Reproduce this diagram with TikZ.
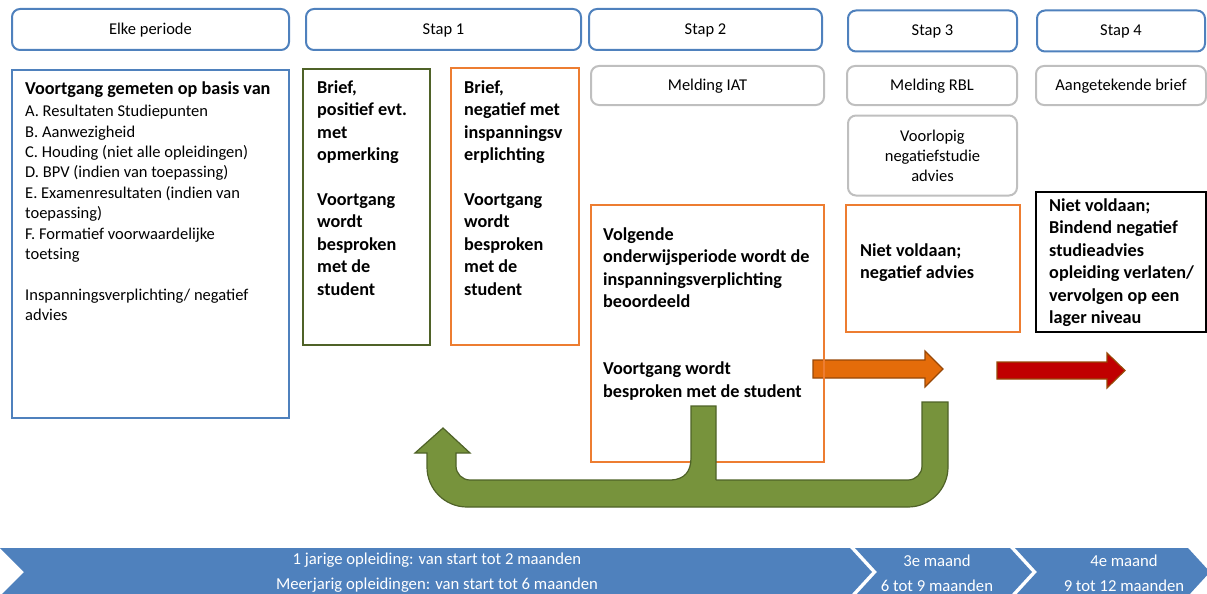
\documentclass[tikz,border=0pt]{standalone}
\usepackage{fontspec}
\setmainfont{Carlito}
\definecolor{blueline}{RGB}{79,129,189}
\definecolor{orangeline}{RGB}{237,125,49}
\definecolor{greenline}{RGB}{79,98,40}
\definecolor{grayline}{RGB}{191,191,191}
\definecolor{arroworange}{RGB}{228,108,10}
\definecolor{arrowred}{RGB}{192,0,0}
\definecolor{arrowborder}{RGB}{152,72,7}
\definecolor{greenfill}{RGB}{119,147,60}
\definecolor{chevfill}{RGB}{79,129,189}
\tikzset{headbox/.style={draw=blueline, line width=2pt, rounded corners=8pt, minimum height=41pt, font=\fontsize{16.5}{19}\selectfont},
  notebox/.style={draw=grayline, line width=2pt, rounded corners=8pt, font=\fontsize{16.5}{20}\selectfont},
  stepbox/.style={draw=#1, line width=2pt},
  boldtxt/.style={anchor=north west, align=left, inner sep=0pt, font=\fontsize{18.2}{22.4}\selectfont\bfseries},
  plaintxt/.style={anchor=north west, align=left, inner sep=0pt, font=\fontsize{16.5}{20.4}\selectfont},
  chevtxt/.style={text=white, align=center, inner sep=0pt, font=\fontsize{16.7}{25}\selectfont},
  greenarrow/.style={fill=greenfill, draw=greenline, line width=1.2pt}}

\begin{document}
\begin{tikzpicture}[x=1pt,y=-1pt]
      \useasboundingbox (0,0) rectangle (1207,594);

      % kopjes
      \node[headbox, minimum width=277pt, text depth=1.5pt] (elke) at (150.5,29.5) {Elke periode};
      \node[headbox, minimum width=275pt, text depth=1.5pt] (stap1) at (443.5,29.5) {Stap 1};
      \node[headbox, minimum width=233pt, text depth=1.5pt] (stap2) at (705.5,29.5) {Stap 2};
      \node[headbox, minimum width=169pt, text depth=1.5pt] (stap3) at (932.5,31) {Stap 3};
      \node[headbox, minimum width=168pt, text depth=1.5pt] (stap4) at (1121,31) {Stap 4};

      % pijlen achter de vakken
      \draw[fill=arroworange, draw=arrowborder, line width=1.2pt] (813,360) -- (925,360) -- (925,351) -- (943,369) -- (925,387) -- (925,378) -- (813,378) -- cycle;
      \draw[fill=arrowred, draw=arrowborder, line width=1.2pt] (997,362) -- (1107,362) -- (1107,353) -- (1125,370.5) -- (1107,388) -- (1107,379) -- (997,379) -- cycle;

      \node[stepbox=blueline, minimum width=277pt, minimum height=348pt] (meet) at (150.5,244) {};
      \node[stepbox=greenline, minimum width=127pt, minimum height=276pt] (pos) at (366.5,207) {};
      \node[stepbox=orangeline, minimum width=128pt, minimum height=277pt] (neg) at (515,206.5) {};
      \node[notebox, minimum width=233pt, minimum height=39pt, text depth=1.5pt] (iat) at (707.5,85.5) {Melding IAT};
      \node[notebox, minimum width=170pt, minimum height=39pt, text depth=1.5pt] (rbl) at (932,85.5) {Melding RBL};
      \node[notebox, minimum width=170pt, minimum height=39pt, text depth=1.5pt] (brief) at (1121,85.5) {Aangetekende brief};
      \node[notebox, minimum width=169pt, minimum height=80pt, align=center] (voorl) at (932.5,155.5) {Voorlopig\\ negatiefstudie\\ advies};
      \node[stepbox=orangeline, minimum width=233pt, minimum height=257pt] (volg) at (707.5,333.5) {};
      \node[stepbox=orangeline, minimum width=174pt, minimum height=127pt] (nietv) at (933,268.5) {};
      \node[stepbox=black, line width=2.5pt, minimum width=170pt, minimum height=140pt] (bindend) at (1121,262) {};

      \node[boldtxt] (meetkop) at (25,81.5) {Voortgang gemeten op basis van};
      \node[plaintxt] (meetlijst) at (25,105) {A. Resultaten Studiepunten\\ B. Aanwezigheid\\ C. Houding (niet alle opleidingen)\\ D. BPV (indien van toepassing)\\ E. Examenresultaten (indien van\\ toepassing)\\ F. Formatief voorwaardelijke\\ toetsing\\[20.4pt] Inspanningsverplichting/ negatief\\ advies};
      \node[boldtxt] (postxt) at (317,80.5) {Brief,\\ positief evt.\\ met\\ opmerking\\[22.4pt] Voortgang\\ wordt\\ besproken\\ met de\\ student};
      \node[boldtxt] (negtxt) at (464,80.5) {Brief,\\ negatief met\\ inspanningsv\\ erplichting\\[22.4pt] Voortgang\\ wordt\\ besproken\\ met de\\ student};
      \node[boldtxt] (volgtxt) at (603,227.5) {Volgende\\ onderwijsperiode wordt de\\ inspanningsverplichting\\ beoordeeld\\[44.8pt] Voortgang wordt\\ besproken met de student};
      \node[boldtxt] (nietvtxt) at (860,243.5) {Niet voldaan;\\ negatief advies};
      \node[boldtxt] (bindtxt) at (1049,198.5) {Niet voldaan;\\ Bindend negatief\\ studieadvies\\ opleiding verlaten/\\ vervolgen op een\\ lager niveau};

      % groene terugpijl
      \draw[greenarrow] (948,402) -- (948,467) arc[start angle=0,end angle=90,radius=40] -- (467,507) arc[start angle=90,end angle=180,radius=40] -- (427,453) -- (415,453) -- (443,428) -- (470,453) -- (456,453) -- (456,466) arc[start angle=180,end angle=90,radius=14] -- (908,480) arc[start angle=90,end angle=0,radius=14] -- (922,402) -- cycle;
      \fill[greenfill] (691,406) -- (716,406) -- (716,482) -- (672,482) -- (672,480) .. controls (684,479) and (691,472) .. (691,458) -- cycle;
      \draw[draw=greenline, line width=1.2pt] (672,480) .. controls (684,479) and (691,472) .. (691,458) -- (691,406) -- (716,406) -- (716,480);

      % tijdbalk
      \fill[chevfill] (0,548) -- (850,548) -- (872,572) -- (850,596) -- (0,596) -- (24,572) -- cycle;
      \fill[chevfill] (855,548) -- (1010,548) -- (1032,572) -- (1010,596) -- (855,596) -- (877,572) -- cycle;
      \fill[chevfill] (1015,548) -- (1188,548) -- (1210,572) -- (1188,596) -- (1015,596) -- (1037,572) -- cycle;
      \node[chevtxt] (eenjarig) at (437,573) {1 jarige opleiding: van start tot 2 maanden\\ Meerjarig opleidingen: van start tot 6 maanden};
      \node[chevtxt] (derde) at (937,573) {3e maand\\ 6 tot 9 maanden};
      \node[chevtxt] (vierde) at (1124,573) {4e maand\\ 9 tot 12 maanden};
  \end{tikzpicture}
\end{document}
